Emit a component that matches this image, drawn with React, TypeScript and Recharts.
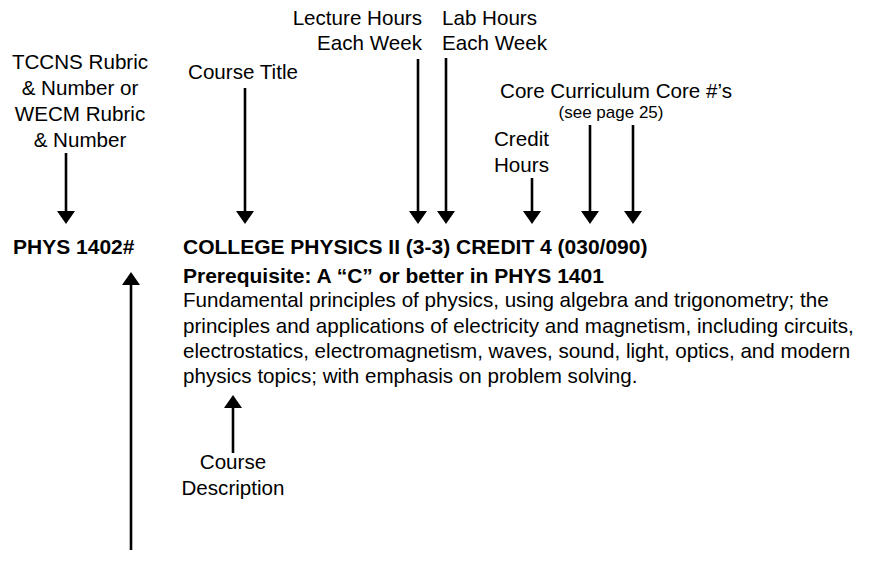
import { ScatterChart, Scatter, XAxis, YAxis, ReferenceLine } from 'recharts';

// annotation text, anchored at x / baseline y in picture units
const labelText = [
  'TCCNS Rubric', '& Number or', 'WECM Rubric', '& Number',
  'Course Title',
  'Lecture Hours', 'Each Week', 'Lab Hours', 'Each Week',
  'Core Curriculum Core #’s', '(see page 25)',
  'Credit', 'Hours',
  'PHYS 1402#',
  'COLLEGE PHYSICS II (3-3) CREDIT 4 (030/090)',
  'Prerequisite: A “C” or better in PHYS 1401',
  'Fundamental principles of physics, using algebra and trigonometry; the',
  'principles and applications of electricity and magnetism, including circuits,',
  'electrostatics, electromagnetism, waves, sound, light, optics, and modern',
  'physics topics; with emphasis on problem solving.',
  'Course', 'Description',
];
const labelX = [80, 80, 80, 80, 243, 422, 422, 442, 442, 616, 611, 494, 494, 13, 183, 183, 183, 183, 183, 183, 233, 233];
const labelY = [69, 95, 121, 147, 79, 25, 50, 25, 50, 98, 118, 146, 172, 254, 254, 283, 307, 333, 358, 383, 469, 495];
const labelAnchor = [
  'middle', 'middle', 'middle', 'middle', 'middle',
  'end', 'end', 'start', 'start',
  'middle', 'middle', 'start', 'start',
  'start', 'start', 'start', 'start', 'start', 'start', 'start',
  'middle', 'middle',
];
const labelBold = [0, 0, 0, 0, 0, 0, 0, 0, 0, 0, 0, 0, 0, 1, 1, 1, 0, 0, 0, 0, 0, 0];
const labelSmall = [0, 0, 0, 0, 0, 0, 0, 0, 0, 0, 1, 0, 0, 0, 0, 0, 0, 0, 0, 0, 0, 0];

// arrows: tail -> tip
const arrowX = [66, 245, 418, 446, 532, 590, 633, 233, 131];
const arrowTailY = [153, 88, 59, 58, 178, 125, 125, 453, 550];
const arrowTipY = [224, 224, 224, 224, 224, 224, 224, 395, 272];

const labels = labelText.map((text, i) => ({
  x: labelX[i], y: labelY[i], text,
  anchor: labelAnchor[i], bold: labelBold[i], small: labelSmall[i],
}));

const FONT = '"Liberation Sans", Arial, Helvetica, sans-serif';

function LabelShape(props: any) {
  const { cx, cy, payload } = props;
  return (
    <text
      x={cx}
      y={cy}
      textAnchor={payload.anchor}
      fontFamily={FONT}
      fontSize={payload.small ? 17 : payload.bold ? 21 : 20.6}
      fontWeight={payload.bold ? 'bold' : 'normal'}
      fill="#000"
    >
      {payload.text}
    </text>
  );
}

function ArrowShape(props: any) {
  const { x1, y1, x2, y2 } = props;
  const dir = y2 > y1 ? 1 : -1;
  const head = 13;
  const half = 9;
  const baseY = y2 - dir * head;
  return (
    <g>
      <line x1={x1} y1={y1} x2={x2} y2={baseY} stroke="#000" strokeWidth={2.6} />
      <polygon points={`${x2 - half},${baseY} ${x2 + half},${baseY} ${x2},${y2}`} fill="#000" />
    </g>
  );
}

export default function App() {
  return (
    <div style={{ position: 'absolute', left: 0, top: 0, background: '#fff' }}>
      <ScatterChart width={881} height={562} margin={{ top: 0, right: 0, bottom: 0, left: 0 }}>
        <XAxis type="number" dataKey="x" domain={[0, 881]} hide allowDataOverflow />
        <YAxis type="number" dataKey="y" domain={[0, 562]} reversed hide allowDataOverflow />
        {arrowX.map((x, i) => (
          <ReferenceLine
            key={i}
            segment={[{ x, y: arrowTailY[i] }, { x, y: arrowTipY[i] }]}
            shape={ArrowShape}
            ifOverflow="visible"
          />
        ))}
        <Scatter data={labels} shape={LabelShape} isAnimationActive={false} />
      </ScatterChart>
    </div>
  );
}
